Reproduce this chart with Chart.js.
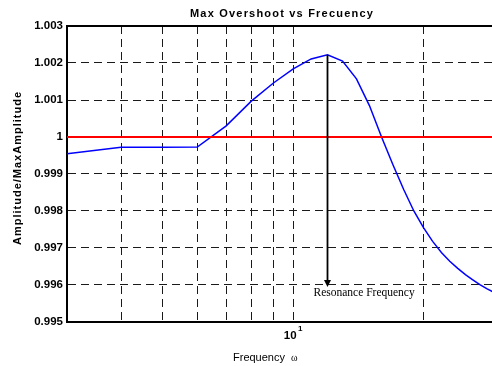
<!DOCTYPE html>
<html>
<head>
<meta charset="utf-8">
<script src="https://cdn.jsdelivr.net/npm/chart.js@4/dist/chart.umd.min.js"></script>
<style>
  body { margin: 0; background: #fff; }
  canvas { display: block; }
</style>
</head>
<body>
<canvas id="overshootChart" width="492" height="366"></canvas>
<script>
// data
const freq = [3, 4, 5, 6, 7, 8, 9, 10, 11, 12, 13, 14, 15, 16, 17, 18, 19, 20, 21, 22, 23, 24, 25, 26, 27, 28, 29, 30];
const amp = [0.99955, 0.99972, 0.99972, 0.99973, 1.00030, 1.00097, 1.00146, 1.00184, 1.00211, 1.00222,
             1.00205, 1.00157, 1.00085, 1.00000, 0.99925, 0.99858, 0.99800, 0.99755, 0.99718, 0.99688,
             0.99664, 0.99645, 0.99628, 0.99614, 0.99601, 0.99590, 0.99581, 0.99573];
const refFreq = [3, 30];
const refAmp = [1, 1];
const xGridTicks = [4, 5, 6, 7, 8, 9, 10, 20];
const yTicks = [0.995, 0.996, 0.997, 0.998, 0.999, 1, 1.001, 1.002, 1.003];
const arrowBottom = 0.996;

const titleText = 'Max Overshoot vs Frecuency';
const yTitle = 'Amplitude/MaxAmplitude';
const xTitle = 'Frequency';
const noteText = 'Resonance Frequency';

const SANS = '"Liberation Sans", Arial, sans-serif';
const SERIF = '"Liberation Serif", "Times New Roman", serif';

const overlay = {
  id: 'overlay',
  afterDraw(chart) {
    const { ctx, chartArea: a, scales: { x, y } } = chart;
    ctx.save();
    // top frame line
    ctx.strokeStyle = '#000';
    ctx.lineWidth = 2;
    ctx.beginPath();
    ctx.moveTo(a.left, a.top);
    ctx.lineTo(a.right, a.top);
    ctx.stroke();

    ctx.fillStyle = '#000';
    // title
    ctx.font = 'bold 11px ' + SANS;
    ctx.letterSpacing = '1.2px';
    ctx.textAlign = 'center';
    ctx.textBaseline = 'middle';
    ctx.fillText(titleText, 282, 14);

    // y title
    ctx.save();
    ctx.translate(17.5, 168);
    ctx.rotate(-Math.PI / 2);
    ctx.letterSpacing = '1px';
    ctx.fillText(yTitle, 0, 0);
    ctx.restore();

    // x title
    ctx.letterSpacing = '0px';
    ctx.font = '11px ' + SANS;
    ctx.textAlign = 'left';
    ctx.fillText(xTitle, 233, 358);
    ctx.font = '10px ' + SERIF;
    ctx.fillText('\u03c9', 291, 358);

    // exponent of the 10 tick
    ctx.font = 'bold 8px ' + SANS;
    ctx.textAlign = 'center';
    ctx.fillText('1', x.getPixelForValue(10) + 7, 329);

    // resonance arrow
    let peak = 0;
    amp.forEach((v, i) => { if (v > amp[peak]) peak = i; });
    const px = Math.round(x.getPixelForValue(freq[peak])) + 0.5;
    const yTop = y.getPixelForValue(amp[peak]);
    const yTip = y.getPixelForValue(arrowBottom) + 2;
    ctx.lineWidth = 1.8;
    ctx.beginPath();
    ctx.moveTo(px, yTop);
    ctx.lineTo(px, yTip - 5);
    ctx.stroke();
    ctx.beginPath();
    ctx.moveTo(px - 3.5, yTip - 7);
    ctx.lineTo(px + 3.5, yTip - 7);
    ctx.lineTo(px, yTip);
    ctx.closePath();
    ctx.fill();

    ctx.font = '11.5px ' + SERIF;
    ctx.textAlign = 'left';
    ctx.fillText(noteText, px - 14, 293);
    ctx.restore();
  }
};

const ctx = document.getElementById('overshootChart').getContext('2d');
const overshootChart = new Chart(ctx, {
  type: 'line',
  data: {
    datasets: [
      {
        data: refFreq.map((f, i) => ({ x: f, y: refAmp[i] })),
        borderColor: '#ff0000',
        borderWidth: 2,
        pointRadius: 0
      },
      {
        data: freq.map((f, i) => ({ x: f, y: amp[i] })),
        borderColor: '#0000ff',
        borderWidth: 1.5,
        pointRadius: 0,
        tension: 0
      }
    ]
  },
  options: {
    responsive: false,
    animation: false,
    layout: { padding: { top: 26, right: 0, left: 0, bottom: 0 } },
    plugins: {
      legend: { display: false },
      tooltip: { enabled: false }
    },
    scales: {
      x: {
        type: 'logarithmic',
        min: 3,
        max: 28.8,
        afterBuildTicks: (scale) => { scale.ticks = xGridTicks.map(v => ({ value: v })); },
        afterFit: (scale) => { scale.height = 44; },
        grid: { color: '#1a1a1a', lineWidth: 1, drawTicks: false },
        border: { display: true, color: '#000', width: 2, dash: [8, 5] },
        ticks: {
          autoSkip: false,
          maxRotation: 0,
          padding: 7,
          labelOffset: -3,
          color: '#000',
          font: { family: SANS, size: 11.5, weight: 'bold' },
          callback: (v) => (v === 10 ? '10' : '')
        }
      },
      y: {
        min: 0.995,
        max: 1.003,
        afterBuildTicks: (scale) => { scale.ticks = yTicks.map(v => ({ value: v })); },
        afterFit: (scale) => { scale.width = 67; },
        grid: { color: '#1a1a1a', lineWidth: 1, drawTicks: false },
        border: { display: true, color: '#000', width: 2, dash: [8, 5] },
        ticks: {
          padding: 4,
          color: '#000',
          font: { family: SANS, size: 11.5, weight: 'bold' },
          callback: (v) => String(parseFloat(Number(v).toFixed(3)))
        }
      }
    }
  },
  plugins: [overlay]
});
</script>
</body>
</html>
